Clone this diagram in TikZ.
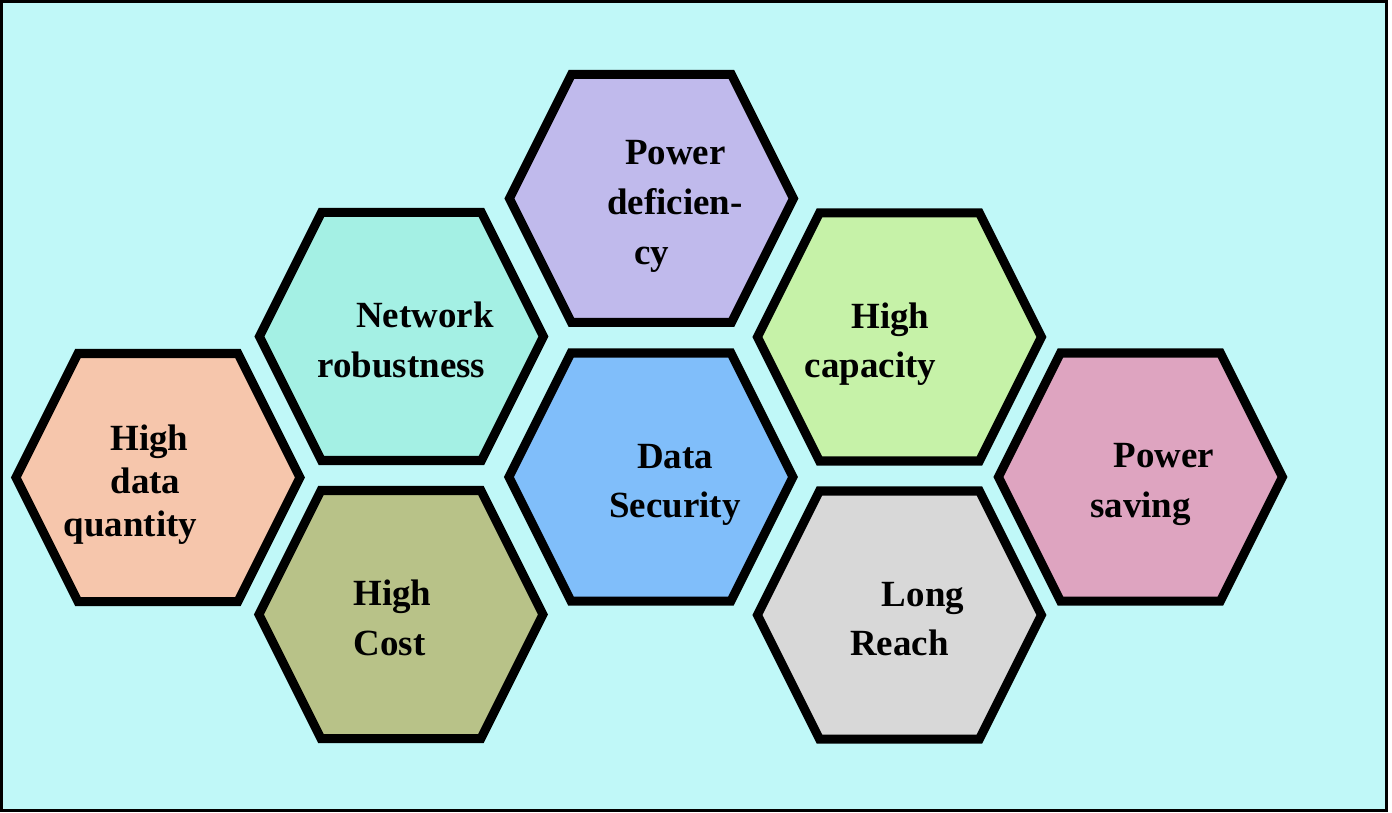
\documentclass[tikz,border=0pt]{standalone}
\usepackage{fontspec}
\setmainfont{Liberation Serif}
\usepackage{tikz}
\usetikzlibrary{backgrounds}
\definecolor{fundoCiano}{RGB}{192,248,248}
\definecolor{lilas}{RGB}{192,186,236}
\definecolor{verdeAgua}{RGB}{164,240,228}
\definecolor{verdeClaro}{RGB}{198,242,168}
\definecolor{pessego}{RGB}{246,198,172}
\definecolor{azulCeu}{RGB}{128,190,250}
\definecolor{rosaVelho}{RGB}{222,164,192}
\definecolor{oliva}{RGB}{184,194,136}
\definecolor{cinzaClaro}{RGB}{216,216,216}
\tikzset{
  rotulo/.style={inner sep=0pt, align=center,
                 font=\fontsize{10.5}{14.2}\selectfont\bfseries},
  hexa/.style={draw=black, line width=0.09cm},
  quadro/.style={draw=black, line width=0.03cm, fill=fundoCiano},
}
\newcommand{\linhatopo}{\rule{0pt}{0.40cm}}
\newcommand{\linhabase}{\rule[-0.08cm]{0pt}{0.08cm}}

\begin{document}
\begin{tikzpicture}[x=0.01cm, y=-0.01cm]
  \useasboundingbox (0,0) rectangle (1392,813);
  \node[rotulo] (pd) at (651.5,198.5) {\linhatopo\hspace*{0.48cm}Power\\\hspace*{0.47cm}deficien-\\cy\linhabase};
  \node[rotulo] (nr) at (401.5,336.5) {\linhatopo\hspace*{0.47cm}Network\\robustness\linhabase};
  \node[rotulo] (hc) at (899.5,337) {\linhatopo\hspace*{-0.18cm}High\\\hspace*{-0.58cm}capacity\linhabase};
  \node[rotulo, font=\fontsize{10.5}{12.2}\selectfont\bfseries] (hq) at (158,477.5)
    {\linhatopo\hspace*{-0.17cm}High\\\hspace*{-0.25cm}data\\\hspace*{-0.55cm}quantity\linhabase};
  \node[rotulo] (ds) at (651,477) {\linhatopo\hspace*{0.48cm}Data\\\hspace*{0.48cm}Security\linhabase};
  \node[rotulo] (ps) at (1140.5,477) {\linhatopo\hspace*{0.47cm}Power\\saving\linhabase};
  \node[rotulo] (hco) at (401,614.5) {\linhatopo\hspace*{-0.17cm}High\\\hspace*{-0.23cm}Cost\linhabase};
  \node[rotulo] (lr) at (899.5,615) {\linhatopo\hspace*{0.47cm}Long\\Reach\linhabase};
  % frame and hexagons behind the labels
  \begin{scope}[on background layer]
    \draw[quadro] (1.5,1.5) rectangle (1386.5,810);
    \foreach \n/\cor in {pd/lilas, nr/verdeAgua, hc/verdeClaro, hq/pessego,
                         ds/azulCeu, ps/rosaVelho, hco/oliva, lr/cinzaClaro}
      \draw[hexa, fill=\cor] ([xshift=-1.42cm]\n.center) -- ++(62,-124) -- ++(160,0)
        -- ++(62,124) -- ++(-62,124) -- ++(-160,0) -- cycle;
  \end{scope}
\end{tikzpicture}
\end{document}
